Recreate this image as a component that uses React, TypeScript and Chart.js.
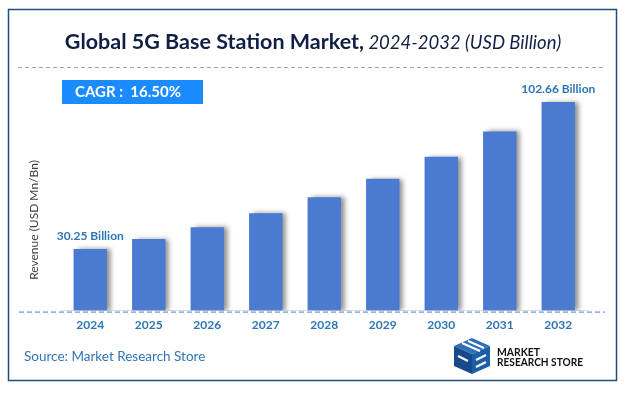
import React, { useEffect, useRef } from "react";
import { Chart, registerables } from "chart.js";

Chart.register(...registerables);

const years = ["2024", "2025", "2026", "2027", "2028", "2029", "2030", "2031", "2032"];
const revenue = [30.25, 35.24, 41.06, 47.83, 55.72, 64.92, 75.63, 88.11, 102.66];
const valueLabels = ["30.25 Billion", "", "", "", "", "", "", "", "102.66 Billion"];
const titleMain = "Global 5G Base Station Market,";
const titleSub = " 2024-2032 (USD Billion)";
const cagrText = "CAGR :  16.50%";
const yTitle = "Revenue (USD Mn/Bn)";
const sourceText = "Source: Market Research Store";

const FONT = "Lato, 'Open Sans', sans-serif";

const decorPlugin = {
  id: "decor",
  beforeDraw(chart: any) {
    const ctx = chart.ctx as CanvasRenderingContext2D;
    ctx.save();
    ctx.fillStyle = "#ffffff";
    ctx.fillRect(0, 0, chart.width, chart.height);
    // border
    ctx.strokeStyle = "#1f4e79";
    ctx.lineWidth = 1.5;
    ctx.strokeRect(8.5, 9.5, 608, 371);
    // title
    ctx.textBaseline = "middle";
    ctx.font = `bold 21.5px ${FONT}`;
    const w1 = ctx.measureText(titleMain).width;
    ctx.font = `italic 18.5px ${FONT}`;
    const w2 = ctx.measureText(titleSub).width;
    let x = 313 - (w1 + w2) / 2;
    ctx.fillStyle = "#0f1f46";
    ctx.font = `bold 21.5px ${FONT}`;
    ctx.textAlign = "left";
    ctx.fillText(titleMain, x, 42);
    ctx.font = `italic 18.5px ${FONT}`;
    ctx.fillText(titleSub, x + w1, 43);
    // dashed line under title
    ctx.setLineDash([4, 3]);
    ctx.strokeStyle = "#8eaadb";
    ctx.lineWidth = 1;
    ctx.beginPath();
    ctx.moveTo(18, 67.5);
    ctx.lineTo(604, 67.5);
    ctx.stroke();
    ctx.setLineDash([]);
    // CAGR box
    ctx.fillStyle = "#1a8cff";
    ctx.fillRect(62, 80, 141, 24);
    ctx.fillStyle = "#ffffff";
    ctx.font = `bold 15px ${FONT}`;
    ctx.fillText(cagrText, 75, 92.5);
    // y title
    ctx.save();
    ctx.translate(34, 220);
    ctx.rotate(-Math.PI / 2);
    ctx.textAlign = "center";
    ctx.fillStyle = "#404040";
    ctx.font = `12px ${FONT}`;
    ctx.fillText(yTitle, 0, 0);
    ctx.restore();
    // source
    ctx.fillStyle = "#2e75b6";
    ctx.font = `13.5px ${FONT}`;
    ctx.textAlign = "left";
    ctx.fillText(sourceText, 24, 357);
    // logo icon
    const ox = 452, oy = 338;
    ctx.fillStyle = "#2f6fb8";
    ctx.beginPath();
    ctx.moveTo(ox + 2, oy + 8);
    ctx.lineTo(ox + 20, oy + 0);
    ctx.lineTo(ox + 38, oy + 8);
    ctx.lineTo(ox + 20, oy + 16);
    ctx.closePath();
    ctx.fill();
    ctx.fillStyle = "#174a8b";
    ctx.beginPath();
    ctx.moveTo(ox + 2, oy + 8);
    ctx.lineTo(ox + 20, oy + 16);
    ctx.lineTo(ox + 20, oy + 36);
    ctx.lineTo(ox + 2, oy + 28);
    ctx.closePath();
    ctx.fill();
    ctx.fillStyle = "#1d5ea8";
    ctx.beginPath();
    ctx.moveTo(ox + 20, oy + 16);
    ctx.lineTo(ox + 38, oy + 8);
    ctx.lineTo(ox + 38, oy + 28);
    ctx.lineTo(ox + 20, oy + 36);
    ctx.closePath();
    ctx.fill();
    ctx.strokeStyle = "#ffffff";
    ctx.lineWidth = 2;
    ctx.beginPath();
    ctx.moveTo(ox + 10, oy + 5);
    ctx.lineTo(ox + 28, oy + 13);
    ctx.moveTo(ox + 16, oy + 3);
    ctx.lineTo(ox + 32, oy + 10);
    ctx.moveTo(ox + 24, oy + 22);
    ctx.lineTo(ox + 34, oy + 17);
    ctx.moveTo(ox + 24, oy + 29);
    ctx.lineTo(ox + 34, oy + 24);
    ctx.moveTo(ox + 6, oy + 18);
    ctx.lineTo(ox + 16, oy + 23);
    ctx.stroke();
    // logo text
    ctx.fillStyle = "#111111";
    ctx.font = `bold 11px ${FONT}`;
    const drawFit = (t: string, tx: number, ty: number, tw: number) => {
      const m = ctx.measureText(t).width;
      ctx.save();
      ctx.translate(tx, ty);
      ctx.scale(tw / m, 1);
      ctx.fillText(t, 0, 0);
      ctx.restore();
    };
    drawFit("MARKET", 497, 352, 43);
    drawFit("RESEARCH STORE", 497, 362, 86);
    ctx.restore();
  },
  beforeDatasetsDraw(chart: any) {
    const ctx = chart.ctx as CanvasRenderingContext2D;
    ctx.save();
    ctx.shadowColor = "rgba(0,0,0,0.45)";
    ctx.shadowOffsetX = 4;
    ctx.shadowOffsetY = 0;
    ctx.shadowBlur = 5;
  },
  afterDatasetsDraw(chart: any) {
    const ctx = chart.ctx as CanvasRenderingContext2D;
    ctx.restore();
    ctx.save();
    // baseline dashed
    const y = chart.scales.y.getPixelForValue(0) + 1.5;
    ctx.setLineDash([5, 3]);
    ctx.strokeStyle = "#4a7bd0";
    ctx.lineWidth = 1;
    ctx.beginPath();
    ctx.moveTo(19, y);
    ctx.lineTo(605, y);
    ctx.stroke();
    ctx.setLineDash([]);
    // value labels
    const meta = chart.getDatasetMeta(0);
    ctx.fillStyle = "#2e75b6";
    ctx.font = `bold 12px ${FONT}`;
    ctx.textAlign = "center";
    ctx.textBaseline = "middle";
    meta.data.forEach((bar: any, i: number) => {
      if (valueLabels[i]) ctx.fillText(valueLabels[i], bar.x, bar.y - 13);
    });
    ctx.restore();
  },
};

export default function App() {
  const ref = useRef<HTMLCanvasElement>(null);
  useEffect(() => {
    if (!ref.current) return;
    const chart = new Chart(ref.current, {
      type: "bar",
      data: {
        labels: years,
        datasets: [
          {
            data: revenue,
            backgroundColor: "#4a7bd0",
            borderWidth: 0,
            categoryPercentage: 1,
            barPercentage: 0.57,
          },
        ],
      },
      options: {
        animation: false,
        responsive: false,
        devicePixelRatio: 1,
        layout: { padding: { left: 61, right: 39.5, top: 87, bottom: 54 } },
        plugins: { legend: { display: false }, tooltip: { enabled: false }, title: { display: false } },
        scales: {
          x: {
            grid: { display: false, drawTicks: false },
            border: { display: true, color: "#d9d9d9" },
            ticks: { color: "#2e75b6", font: { family: FONT, size: 12, weight: "bold" }, padding: 7 },
          },
          y: { display: false, min: 0, max: 110 },
        },
      },
      plugins: [decorPlugin],
    });
    return () => chart.destroy();
  }, []);
  return (
    <div style={{ position: "absolute", left: 0, top: 0, width: 627, height: 393 }}>
      <canvas ref={ref} width={627} height={393} style={{ display: "block" }} />
    </div>
  );
}
